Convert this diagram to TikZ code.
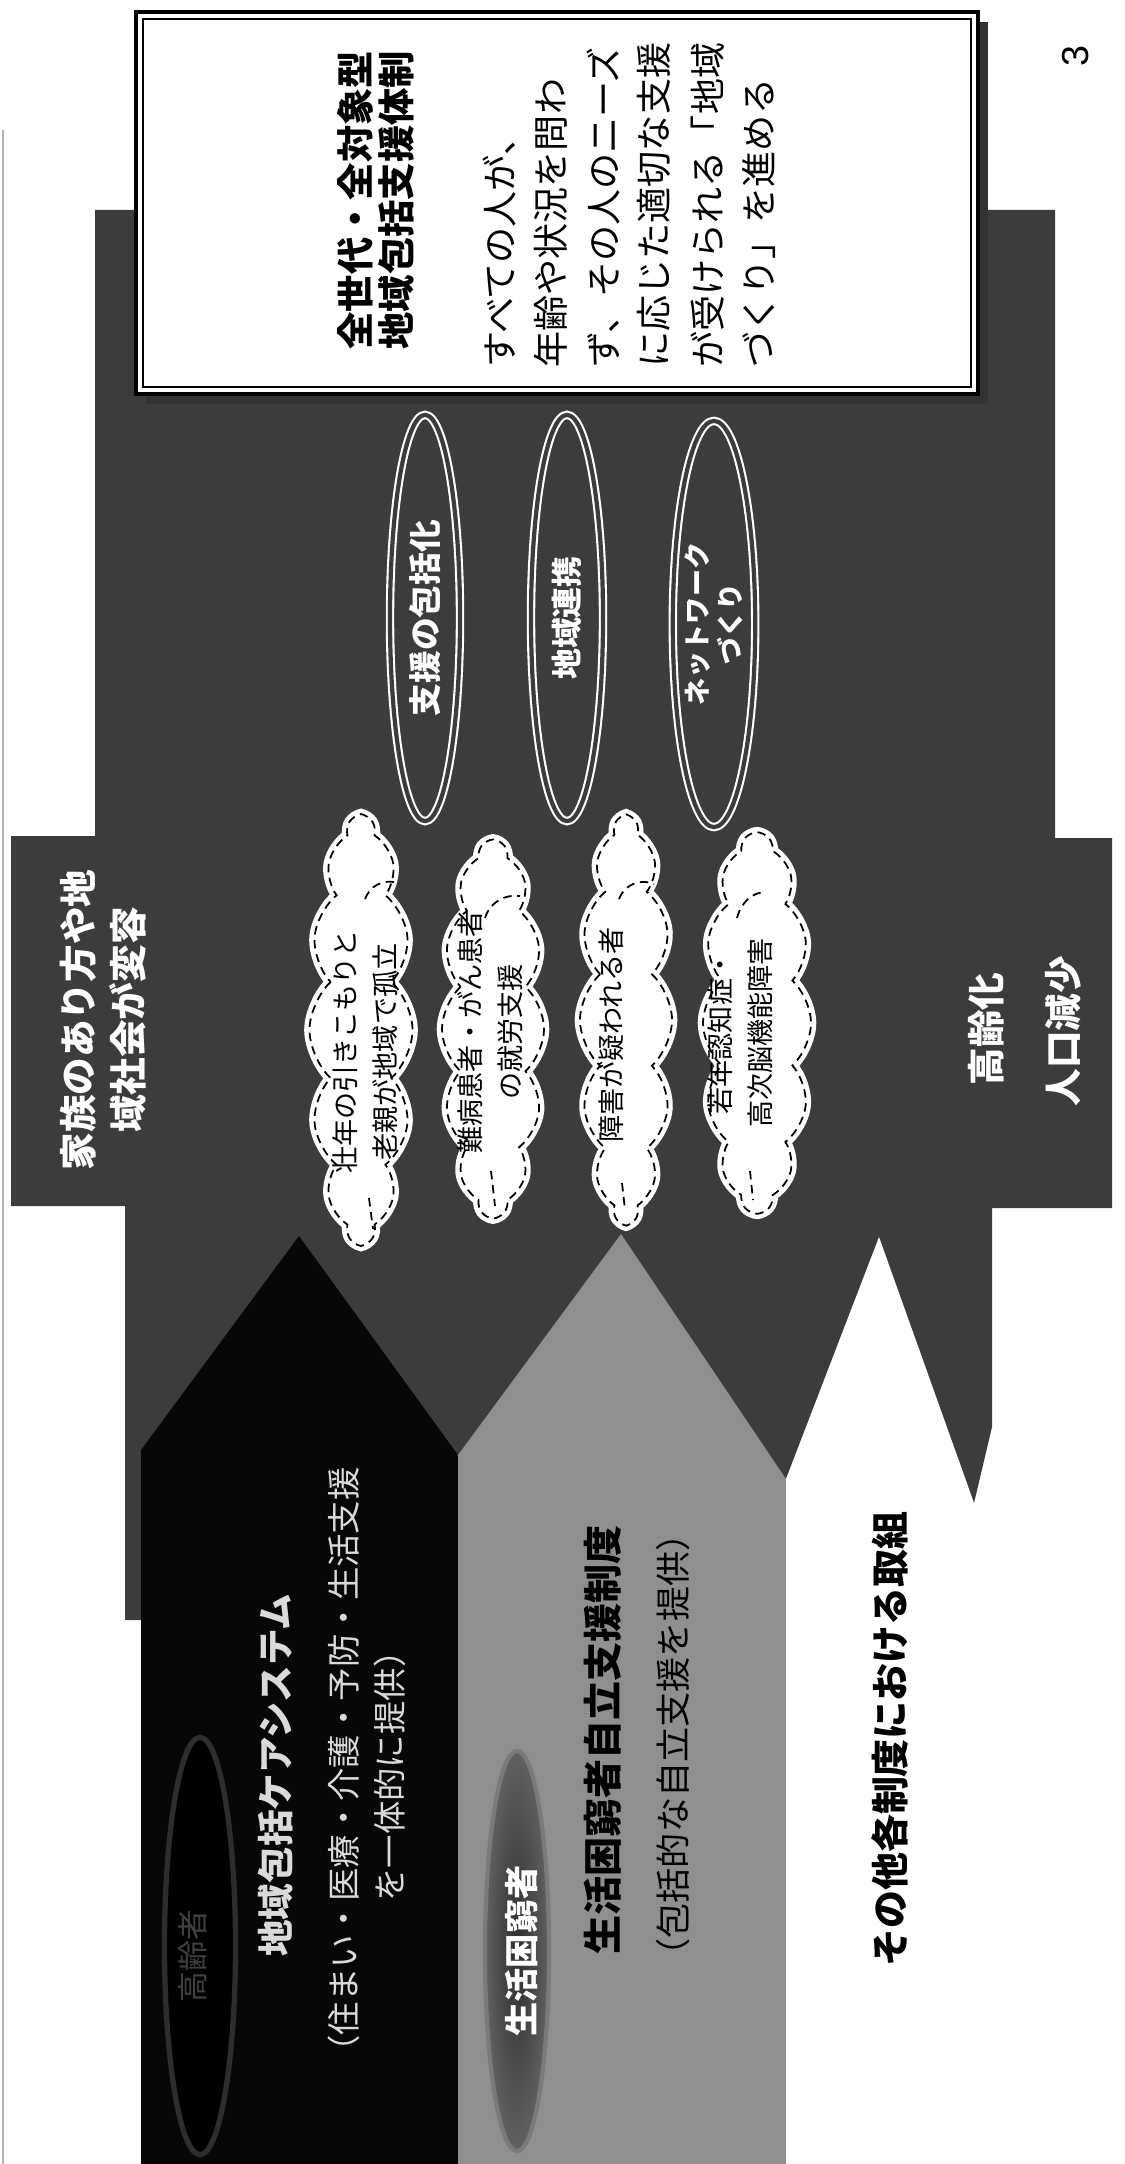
\documentclass[tikz,border=0pt]{standalone}
\usepackage{fontspec}
\setmainfont{Noto Sans CJK JP}
\newfontfamily\pagenumfont{Liberation Sans}
\usetikzlibrary{shapes.geometric,shapes.symbols}
\definecolor{bgdark}{HTML}{3C3C3C}
\definecolor{arrblack}{HTML}{070707}
\definecolor{arrgrey}{HTML}{8F8F8F}
\definecolor{lighttxt}{HTML}{DADADA}
\newcommand{\jfs}[2]{\fontsize{#1}{#2}\selectfont}
\begin{document}
\begin{tikzpicture}[x=0.01cm,y=-0.01cm,
  vt/.style={rotate=90, inner sep=0pt, align=center},
  cloudbox/.style={shape=cloud, cloud puffs=14, cloud puff arc=95, cloud ignores aspect,
     fill=white, draw=black, line width=0.5pt, dash pattern=on 2.4pt off 1.6pt,
     rotate=90, inner sep=0pt, preaction={draw=white, line width=3pt, solid}},
  puffline/.style={draw=black, line width=0.5pt, dash pattern=on 2.4pt off 1.6pt},
  ring/.style={ellipse, draw=white, line width=0.6pt, double=bgdark, double distance=1.2pt,
     fill=bgdark, rotate=90, inner sep=0pt, text=white, align=center},
  cloudtxt/.style={vt, font=\jfs{7.7pt}{11.3pt}},
  boxtxt/.style={vt, anchor=west, font=\jfs{10.25pt}{12pt}},
  boxttl/.style={vt, anchor=west, font=\jfs{10.6pt}{12pt}\bfseries},
  sidetxt/.style={vt, text=white, font=\jfs{10.7pt}{14.2pt}\bfseries}
]
\useasboundingbox (0,0) rectangle (1124,2164);
\fill[white] (0,0) rectangle (1124,2164);
\draw[gray!60, line width=0.4pt] (3,130) -- (3,2164);

% dark background with the two side boxes
\fill[bgdark] (95,210) -- (1055,210) -- (1055,838) -- (1112,838) -- (1112,1208) -- (992,1208)
  -- (992,1427) -- (974,1503) -- (786,1503) -- (786,1620) -- (125,1620) -- (125,1206)
  -- (11,1206) -- (11,836) -- (95,836) -- cycle;

% three arrows
\fill[arrblack] (141,2164) -- (141,1450) -- (299,1236) -- (458,1455) -- (458,2164) -- cycle;
\fill[arrgrey] (458,2164) -- (458,1455) -- (621,1234) -- (786,1479) -- (786,2164) -- cycle;
\fill[white] (786,2164) -- (786,1479) -- (879,1237) -- (974,1503) -- (974,2164) -- cycle;

% ellipses inside arrows
\node[ellipse, rotate=90, inner sep=0pt, fill=black, draw=gray!35!black, line width=1.5pt,
  minimum width=4.17cm, minimum height=0.71cm] (eldark) at (200,1946) {};
\node[vt, text=gray!50!black, font=\jfs{8.8pt}{10pt}] (eldarktxt) at (193,1956) {高齢者};
\node[ellipse, rotate=90, inner sep=0pt, inner color=black!82, outer color=black!62,
  draw=black!52, line width=1.2pt,
  minimum width=4.0cm, minimum height=0.64cm] (elgrey) at (517,1951) {};
\node[vt, text=white, font=\jfs{9.7pt}{11pt}\bfseries] (elgreytxt) at (522,1951) {生活困窮者};

% arrow texts
\node[vt, text=lighttxt, font=\jfs{10.4pt}{12pt}\bfseries] (lcs1) at (276,1775) {地域包括ケアシステム};
\node[vt, text=lighttxt, font=\jfs{9.5pt}{12pt}] (lcs2) at (344,1768) {（住まい・医療・介護・予防・生活支援};
\node[vt, text=lighttxt, font=\jfs{9.5pt}{12pt}] (lcs3) at (390,1768) {を一体的に提供）};
\node[vt, font=\jfs{11.1pt}{13pt}\bfseries] (sk1) at (603,1740) {生活困窮者自立支援制度};
\node[vt, font=\jfs{10pt}{12pt}] (sk2) at (673,1745) {（包括的な自立支援を提供）};
\node[vt, font=\jfs{10.8pt}{12pt}\bfseries] (other) at (890,1739) {その他各制度における取組};

% side boxes texts
\node[sidetxt] (family) at (103,1020) {家族のあり方や地\\域社会が変容};
\node[sidetxt] (aging) at (986,1029) {高齢化};
\node[sidetxt] (popdec) at (1063,1031) {人口減少};

% clouds
\node[cloudbox, minimum width=4.27cm, minimum height=1.03cm] (cloudA) at (361,1030) {};
\node[cloudbox, minimum width=3.76cm, minimum height=1.02cm] (cloudB) at (493,1029) {};
\node[cloudbox, minimum width=4.06cm, minimum height=0.92cm] (cloudC) at (626,1020) {};
\node[cloudbox, minimum width=3.79cm, minimum height=1.08cm] (cloudD) at (757,1023) {};
\draw[puffline] (365,899) .. controls (370,886) and (382,880) .. (394,882);
\draw[puffline] (369,1198) -- (373,1229);
\draw[puffline] (485,918) .. controls (490,902) and (505,894) .. (520,896);
\draw[puffline] (491,1171) -- (495,1206);
\draw[puffline] (619,899) .. controls (624,885) and (640,878) .. (654,884);
\draw[puffline] (622,1183) -- (625,1210);
\draw[puffline] (737,918) .. controls (741,902) and (753,892) .. (766,892);
\draw[puffline] (750,1171) -- (753,1200);
\node[cloudtxt] (txtA) at (365,1052) {壮年の引きこもりと\\老親が地域で孤立};
\node[cloudtxt] (txtB) at (490,1032) {難病患者・がん患者\\の就労支援};
\node[cloudtxt] (txtC) at (611,1035) {障害が疑われる者};
\node[cloudtxt] (txtD) at (740,1033) {若年認知症・\\高次脳機能障害};

% ovals
\node[ring, minimum width=4.06cm, minimum height=0.70cm, font=\jfs{9.3pt}{11pt}\bfseries] (ovalA) at (425,618) {支援の包括化};
\node[ring, minimum width=4.06cm, minimum height=0.72cm, font=\jfs{8.8pt}{11pt}\bfseries] (ovalB) at (567,618) {地域連携};
\node[ring, minimum width=4.06cm, minimum height=0.76cm, font=\jfs{7.7pt}{9.4pt}\bfseries] (ovalC) at (714,624) {ネットワーク\\づくり};

% goal box
\fill[black!80] (146,22) rectangle (988,404);
\draw[line width=1pt, fill=white] (136,12) rectangle (978,394);
\draw[line width=0.5pt] (143,19) rectangle (971,387);
\node[boxttl] (ttl1) at (355,350) {全世代・全対象型};
\node[boxttl] (ttl2) at (396,350) {地域包括支援体制};
\node[boxtxt] (b1) at (500,368) {すべての人が、};
\node[boxtxt] (b2) at (551,368) {年齢や状況を問わ};
\node[boxtxt] (b3) at (603,368) {ず、その人のニーズ};
\node[boxtxt] (b4) at (654,368) {に応じた適切な支援};
\node[boxtxt] (b5) at (708,368) {が受けられる「地域};
\node[boxtxt] (b6) at (759,368) {づくり」を進める};

\node[rotate=90, inner sep=0pt, font=\pagenumfont\fontsize{10.7pt}{12pt}\selectfont] (pnum) at (1076,56) {3};
\end{tikzpicture}
\end{document}
